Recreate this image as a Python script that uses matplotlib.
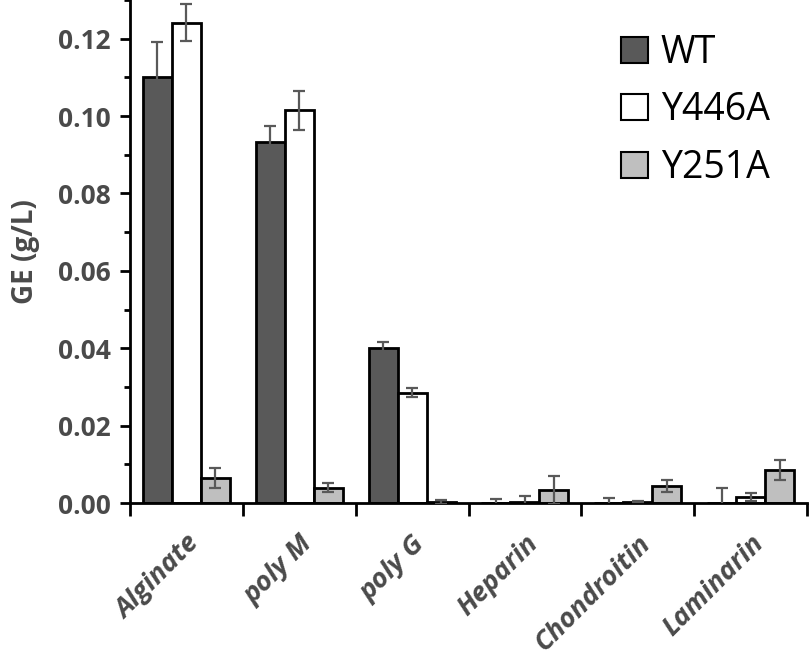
import numpy as np
import matplotlib.pyplot as plt
import matplotlib.transforms as mtransforms
from matplotlib.ticker import MultipleLocator

# data
categories = ["Alginate", "poly M", "poly G", "Heparin", "Chondroitin", "Laminarin"]
wt = [0.1102, 0.0932, 0.0400, 0.0000, 0.0000, 0.0000]
wt_err = [0.0090, 0.0043, 0.0015, 0.0010, 0.0014, 0.0040]
y446a = [0.1241, 0.1015, 0.0285, 0.0003, 0.0003, 0.0015]
y446a_err = [0.0048, 0.0050, 0.0012, 0.0016, 0.0001, 0.0011]
y251a = [0.0065, 0.0040, 0.0003, 0.0034, 0.0044, 0.0085]
y251a_err = [0.0025, 0.0012, 0.0005, 0.0037, 0.0016, 0.0026]

series = [("WT", wt, wt_err, "#595959"),
          ("Y446A", y446a, y446a_err, "#ffffff"),
          ("Y251A", y251a, y251a_err, "#bfbfbf")]

plt.rcParams['font.family'] = ['Open Sans', 'DejaVu Sans']
grey = "#595959"
txtgrey = "#4a4a4a"

fig = plt.figure(figsize=(8.1, 6.65), dpi=100)
ax = fig.add_axes([0.1605, 0.2436, 0.8358, 0.7564])

x = np.arange(len(categories))
w = 0.257
for i, (name, vals, errs, col) in enumerate(series):
    ax.bar(x + (i - 1) * w, vals, w, color=col, edgecolor="black", linewidth=2,
           label=name, zorder=2,
           yerr=errs, error_kw=dict(ecolor=grey, elinewidth=1.6, capsize=4.5,
                                    capthick=1.6, zorder=3))

ax.set_xlim(-0.5, len(categories) - 0.5)
ax.set_ylim(0, 0.13)
ax.yaxis.set_major_locator(MultipleLocator(0.02))
ax.yaxis.set_minor_locator(MultipleLocator(0.01))
ax.yaxis.set_major_formatter(plt.FuncFormatter(lambda v, p: f"{v:.2f}"))

ax.set_xticks(x)
ax.set_xticks(np.arange(len(categories) + 1) - 0.5, minor=True)
ax.set_xticklabels(categories, rotation=45, ha="right", rotation_mode="anchor",
                   fontsize=19.5, fontweight="bold", fontstyle="italic", color=txtgrey)
shift = mtransforms.ScaledTranslation(6 / 100, 0, fig.dpi_scale_trans)
for lab in ax.get_xticklabels():
    lab.set_transform(lab.get_transform() + shift)
ax.tick_params(axis="x", which="major", length=0, pad=20)
ax.tick_params(axis="x", which="minor", length=9, width=2, direction="out")
ax.tick_params(axis="y", which="major", length=7, width=2, labelsize=19,
               labelcolor=txtgrey, pad=7)
ax.tick_params(axis="y", which="minor", length=4.5, width=2)
for lab in ax.get_yticklabels():
    lab.set_fontweight("bold")

for s in ["top", "right"]:
    ax.spines[s].set_visible(False)
for s in ["left", "bottom"]:
    ax.spines[s].set_linewidth(2)

ax.set_ylabel("GE (g/L)", fontsize=20, fontweight="bold", color=txtgrey, labelpad=13)

leg = ax.legend(loc="upper right", bbox_to_anchor=(0.995, 1.0), frameon=False,
                fontsize=27, handlelength=0.7, handleheight=0.7,
                handletextpad=0.35, labelspacing=0.52)
for h in leg.legend_handles:
    h.set_linewidth(1.5)

fig.savefig("out.png", dpi=100)
